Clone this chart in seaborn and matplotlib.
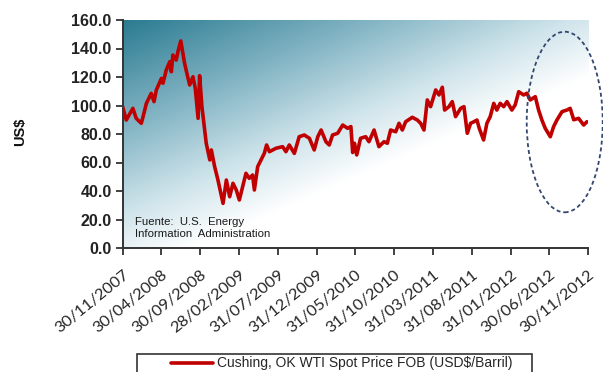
import numpy as np
import pandas as pd
import matplotlib
matplotlib.use("Agg")
import matplotlib.pyplot as plt
from matplotlib.patches import Ellipse, Rectangle
from matplotlib.colors import LinearSegmentedColormap
import seaborn as sns

# WTI spot price, Cushing OK (USD per barrel)
dates = [
    "2007-11-30", "2007-12-14", "2008-01-09", "2008-01-22", "2008-02-11", "2008-02-18",
    "2008-03-02", "2008-03-21", "2008-04-01", "2008-04-10", "2008-04-30", "2008-05-06",
    "2008-05-19", "2008-06-02", "2008-06-08", "2008-06-14", "2008-06-27", "2008-07-04",
    "2008-07-15", "2008-07-30", "2008-08-08", "2008-08-19", "2008-09-01", "2008-09-10",
    "2008-09-21", "2008-09-27", "2008-10-06", "2008-10-23", "2008-11-06", "2008-11-12",
    "2008-11-25", "2008-12-08", "2008-12-28", "2009-01-10", "2009-01-23", "2009-02-05",
    "2009-02-18", "2009-03-02", "2009-03-15", "2009-03-28", "2009-04-10", "2009-04-23",
    "2009-04-30", "2009-05-13", "2009-05-26", "2009-06-08", "2009-06-17", "2009-06-28",
    "2009-07-24", "2009-08-19", "2009-09-01", "2009-09-14", "2009-10-04", "2009-10-23",
    "2009-11-12", "2009-12-02", "2009-12-21", "2010-01-04", "2010-01-17", "2010-02-05",
    "2010-02-18", "2010-03-03", "2010-03-23", "2010-04-12", "2010-05-01", "2010-05-14",
    "2010-05-21", "2010-05-28", "2010-06-06", "2010-06-21", "2010-07-11", "2010-07-24",
    "2010-08-13", "2010-09-01", "2010-09-21", "2010-10-04", "2010-10-17", "2010-11-06",
    "2010-11-19", "2010-12-02", "2010-12-15", "2011-01-10", "2011-01-30", "2011-02-12",
    "2011-02-25", "2011-03-10", "2011-03-23", "2011-04-12", "2011-04-25", "2011-05-08",
    "2011-05-17", "2011-06-03", "2011-06-16", "2011-06-29", "2011-07-19", "2011-08-01",
    "2011-08-14", "2011-08-27", "2011-09-09", "2011-09-21", "2011-09-30", "2011-10-17",
    "2011-10-30", "2011-11-12", "2011-11-26", "2011-12-08", "2011-12-21", "2012-01-04",
    "2012-01-17", "2012-02-05", "2012-02-18", "2012-03-03", "2012-03-22", "2012-04-04",
    "2012-04-17", "2012-05-07", "2012-05-20", "2012-06-02", "2012-06-15", "2012-07-05",
    "2012-07-18", "2012-07-31", "2012-08-20", "2012-09-08", "2012-09-21", "2012-10-05",
    "2012-10-24", "2012-11-13", "2012-11-26",
]
prices = [
    99.0, 89.8, 98.0, 91.0, 87.5, 92.2,
    101.5, 108.5, 102.7, 110.9, 119.0, 115.6,
    124.9, 130.8, 123.7, 135.4, 131.9, 137.8,
    145.3, 129.6, 122.6, 114.4, 120.2, 112.0,
    91.0, 120.9, 99.2, 73.5, 61.8, 68.8,
    57.1, 47.7, 31.3, 47.7, 36.0, 45.4,
    40.7, 33.7, 43.0, 52.4, 48.9, 51.2,
    40.7, 57.1, 61.8, 66.4, 72.3, 67.6,
    70.0, 71.1, 67.6, 72.3, 66.4, 78.1,
    79.3, 77.0, 68.8, 78.1, 82.8, 74.6,
    72.3, 79.3, 80.5, 86.3, 84.0, 85.2,
    67.0, 73.5, 65.3, 77.0, 78.1, 74.6,
    82.8, 71.1, 74.6, 73.5, 82.8, 81.6,
    87.5, 82.8, 88.6, 91.7, 89.8, 87.5,
    82.8, 103.9, 99.2, 110.9, 107.4, 112.8,
    96.8, 99.2, 102.7, 92.2, 98.0, 99.2,
    80.5, 87.5, 88.6, 89.8, 84.0, 75.8,
    87.5, 92.2, 101.5, 96.8, 101.5, 99.2,
    102.7, 96.8, 100.4, 109.7, 107.4, 108.6,
    103.9, 106.2, 96.8, 89.8, 84.0, 78.1,
    85.2, 89.8, 95.7, 96.8, 98.0, 90.0,
    91.0, 86.3, 88.6,
]
tick_dates = [
    "2007-11-30", "2008-04-30", "2008-09-30", "2009-02-28", "2009-07-31",
    "2009-12-31", "2010-05-31", "2010-10-31", "2011-03-31", "2011-08-31",
    "2012-01-31", "2012-06-30", "2012-11-30",
]
y_ticks = [0, 20, 40, 60, 80, 100, 120, 140, 160]
series_name = "Cushing, OK WTI Spot Price FOB (USD$/Barril)"
source_note = "Fuente:  U.S.  Energy\nInformation  Administration"

df = pd.DataFrame({"Fecha": pd.to_datetime(dates), "Precio": prices})
tick_pos = pd.to_datetime(tick_dates)

sns.set_style("ticks")
plt.rcParams["font.family"] = ["Liberation Sans", "DejaVu Sans"]

W, H = 603, 372
fig = plt.figure(figsize=(W / 100, H / 100), dpi=100)
ax = fig.add_axes([122.7 / W, 1 - 248 / H, (588 - 122.7) / W, (248 - 20) / H])

# diagonal teal-to-white gradient behind the plot area
ny, nx = 200, 400
u = np.linspace(0, 1, nx)[None, :]
v = np.linspace(1, 0, ny)[:, None]
t = np.clip(0.78 * u + 0.88 * (1 - v), 0, 1)
cmap = LinearSegmentedColormap.from_list(
    "teal_fade", [(0.0, "#2b7b91"), (0.4, "#7fb2c2"), (0.75, "#cfe4eb"), (1.0, "#ffffff")])
ax.imshow(t, cmap=cmap, vmin=0, vmax=1, extent=[0, 1, 0, 1], transform=ax.transAxes,
          aspect="auto", zorder=0, interpolation="bilinear")

sns.lineplot(data=df, x="Fecha", y="Precio", ax=ax, color="#c00000", linewidth=2.6,
             label=series_name, legend=False, zorder=3)

ax.set_xlim(tick_pos[0], tick_pos[-1])
ax.set_ylim(0, 160)
ax.set_xticks(tick_pos)
ax.set_xticklabels([d.strftime("%d/%m/%Y") for d in tick_pos], rotation=39,
                   ha="right", rotation_mode="anchor", fontsize=11.8, color="#262626",
                   family=["Lato", "DejaVu Sans"])
ax.set_yticks(y_ticks)
ax.set_yticklabels([f"{y:.1f}" for y in y_ticks], fontsize=11.5, fontweight="bold",
                   color="#222222")
ax.tick_params(axis="both", direction="out", length=5, width=1.3, color="#333333", pad=3)
ax.tick_params(axis="x", pad=9)
ax.set_xlabel("")
ax.set_ylabel("")
for side in ("top", "right"):
    ax.spines[side].set_visible(False)
for side in ("left", "bottom"):
    ax.spines[side].set_color("#333333")
    ax.spines[side].set_linewidth(1.4)

fig.text(20 / W, 1 - 132 / H, "US$", rotation=90, ha="center", va="center",
         fontsize=10.5, fontweight="bold", color="#111111")

ax.text(0.027, 0.135, source_note, transform=ax.transAxes, ha="left", va="top",
        fontsize=8.2, color="#1a1a1a", linespacing=1.2, zorder=4)

# dashed ellipse marking the last months
ell = Ellipse((564.7 / W, 1 - 122 / H), 76 / W, 180.6 / H, transform=fig.transFigure,
              fill=False, edgecolor="#34476e", linewidth=1.3, linestyle=(0, (2.2, 1.6)),
              zorder=5)
fig.add_artist(ell)

# legend frame at the foot of the figure
fig.add_artist(Rectangle((137 / W, -0.02), (532 - 137) / W, 1 - 354 / H + 0.02,
                         transform=fig.transFigure, fill=False, edgecolor="#222222",
                         linewidth=1.1))
handles, labels = ax.get_legend_handles_labels()
fig.legend(handles, labels, loc="center left", bbox_to_anchor=(171 / W, 1 - 363.5 / H),
           frameon=False, fontsize=10.0, handlelength=3.0, handletextpad=0.3,
           borderpad=0, borderaxespad=0)

fig.savefig("out.png", dpi=100, facecolor="white")
